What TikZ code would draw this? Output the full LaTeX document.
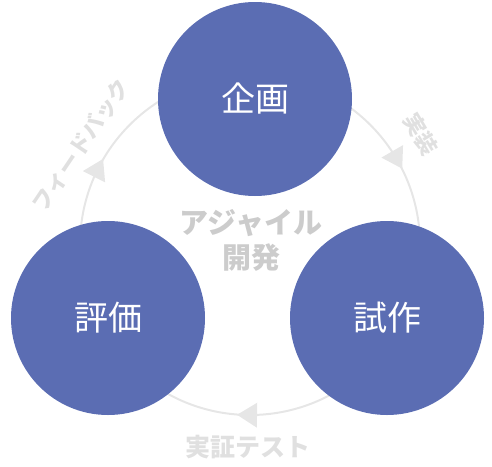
\documentclass[tikz,border=0pt]{standalone}
\usepackage{fontspec}
\newfontfamily\jp{Noto Sans CJK JP}
\usetikzlibrary{arrows.meta}
\definecolor{circblue}{HTML}{5B6DB3}
\definecolor{arcgray}{HTML}{E6E6E6}
\definecolor{labgray}{HTML}{E0E0E0}
\definecolor{centergray}{HTML}{CCCCCC}
\tikzset{
  phase/.style={circle, fill=circblue, minimum size=194pt, inner sep=0pt, text=white, font=\jp\fontsize{34}{34}\selectfont},
  arclab/.style={text=labgray, font=\jp\bfseries\fontsize{22}{22}\selectfont, inner sep=0pt},
  centerlab/.style={text=centergray, font=\jp\bfseries\fontsize{29}{35}\selectfont, inner sep=0pt, align=center},
  cyc/.style={draw=arcgray, line width=2pt},
  tri/.style={fill=arcgray}
}
\begin{document}
\begin{tikzpicture}[x=1pt,y=-1pt]
\useasboundingbox (0,0) rectangle (492,466);
\coordinate (c) at (250,245);
\draw[cyc] (c) circle[radius=170];
\node[phase] (plan) at (255,99) {企画};
\node[phase] (proto) at (387,318) {試作};
\node[phase] (eval) at (108,318) {評価};
% arrowheads on the cycle, pointing clockwise
\foreach \ang/\nm in {-30/ar, 91/ab, 207/al}{
  \path (c) ++(\ang:170) coordinate (\nm);
  \pgfmathsetmacro{\rot}{-(\ang+90)}
  \begin{scope}[shift={(\nm)}, rotate=\rot]
    \fill[tri] (10,0) -- (-10,12.5) -- (-10,-12.5) -- cycle;
  \end{scope}
}
\node[arclab, rotate=56] (fb) at (81,145) {フィードバック};
\node[arclab, rotate=-59] (impl) at (421,134) {実装};
\node[arclab, font=\jp\bfseries\fontsize{25}{25}\selectfont] (test) at (248,447) {実証テスト};
\node[centerlab] (agile) at (251,240) {アジャイル\\開発};
\end{tikzpicture}
\end{document}
